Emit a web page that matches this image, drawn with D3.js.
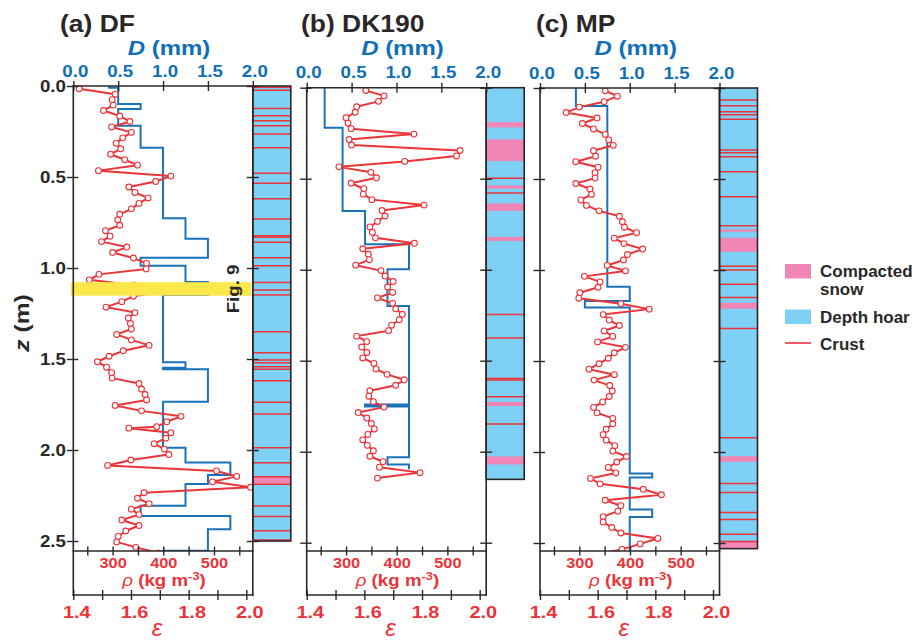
<!DOCTYPE html>
<html>
<head>
<meta charset="utf-8">
<script src="https://cdn.jsdelivr.net/npm/d3@7"></script>
<style>
  body { margin: 0; background: #fff; }
  svg { display: block; }
  text { font-family: "Liberation Sans", Arial, Helvetica, sans-serif; font-weight: bold; }
</style>
</head>
<body>
<svg id="chart" width="917" height="641"></svg>
<script>
// ---------- Site DF ----------
const zDF = [0.015,0.045,0.075,0.105,0.135,0.165,0.195,0.225,0.255,0.285,0.315,0.345,0.375,0.405,0.435,0.465,0.495,0.525,0.555,0.585,
  0.615,0.645,0.675,0.705,0.735,0.765,0.795,0.825,0.855,0.885,0.915,0.945,0.975,1.005,1.035,1.065,1.095,1.125,1.155,1.185,
  1.215,1.245,1.275,1.305,1.335,1.365,1.395,1.425,1.455,1.485,1.515,1.545,1.575,1.605,1.635,1.665,1.695,1.725,1.755,1.785,
  1.815,1.845,1.872,1.880,1.905,1.935,1.965,1.995,2.025,2.055,2.085,2.115,2.145,2.175,2.205,2.235,2.265,2.295,2.325,2.355,
  2.385,2.415,2.445,2.475,2.505,2.535,2.565];
const rhoDF = [234,305,299,301,282,314,334,298,337,320,307,316,296,324,349,272,415,385,332,344,
  370,352,337,314,310,314,286,295,278,328,300,341,367,366,273,254,342,407,341,318,
  287,344,331,335,337,308,337,372,321,293,270,288,298,299,352,357,364,367,305,357,
  435,407,387,332,415,405,382,402,411,336,290,505,545,497,572,362,349,372,337,352,
  318,352,326,311,308,346,390];
const grainBoundsDF = [0,0.01,0.099,0.126,0.218,0.339,0.727,0.839,0.943,0.987,1.077,1.148,1.518,1.548,1.557,1.735,1.987,2.068,2.137,2.187,2.306,2.363,2.436,2.553,2.6];
const grainDF = [0.4,0.5,0.75,0.5,0.75,1.0,1.25,1.5,0.75,1.25,1.5,1.0,1.25,1.0,1.5,1.0,1.25,1.75,1.5,1.25,0.75,1.75,1.5,1.0];
const compactDF = [[2.147,2.188]];
const crustDF = [0.007,0.024,0.123,0.163,0.191,0.218,0.264,0.339,0.48,0.535,0.619,0.731,0.823,0.831,0.859,0.943,0.987,1.079,1.121,1.148,
  1.35,1.465,1.505,1.52,1.542,1.557,1.619,1.738,1.802,1.987,2.07,2.147,2.188,2.308,2.366,2.443,2.495];
const baseDF = 2.5;
const fig9Band = [1.078, 1.152];

// ---------- Site DK190 ----------
const zDK = [0.015,0.045,0.075,0.105,0.135,0.165,0.195,0.225,0.255,0.285,0.315,0.345,0.375,0.405,0.435,0.465,0.495,0.525,0.555,0.585,
  0.615,0.645,0.675,0.705,0.735,0.765,0.795,0.825,0.855,0.885,0.915,0.945,0.975,1.005,1.035,1.065,1.095,1.125,1.155,1.185,
  1.215,1.245,1.275,1.305,1.335,1.365,1.395,1.425,1.455,1.485,1.515,1.545,1.575,1.605,1.635,1.665,1.695,1.725,1.755,1.785,
  1.815,1.845,1.875,1.905,1.935,1.965,1.995,2.025,2.055,2.085,2.115,2.145];
const rhoDK = [339,375,364,321,318,300,304,310,434,306,311,525,518,416,286,349,360,310,335,334,
  351,454,371,377,362,347,352,358,435,333,344,346,319,369,377,393,382,392,362,392,
  398,411,405,390,384,321,341,331,341,333,355,359,381,415,398,347,345,354,375,324,
  341,350,356,343,333,342,354,347,373,366,446,362];
const grainBoundsDK = [0,0.22,0.678,0.86,0.997,1.2,1.740,1.751,2.03,2.07,2.097];
const grainDK = [0.2,0.4,0.65,1.14,0.9,1.14,0.65,1.14,0.9,1.14];
const compactDK = [[0.189,0.218],[0.284,0.403],[0.537,0.555],[0.636,0.677],[0.82,0.842],[1.727,1.749],[2.026,2.07]];
const crustDK = [0.498,0.578,1.246,1.375,1.598,1.606,1.698,1.848];
const baseDK = 2.152;

// ---------- Site MP ----------
const zMP = [0.015,0.045,0.075,0.105,0.135,0.165,0.195,0.225,0.255,0.285,0.315,0.345,0.375,0.405,0.435,0.465,0.495,0.525,0.555,0.585,
  0.615,0.645,0.675,0.705,0.735,0.765,0.795,0.825,0.855,0.885,0.915,0.945,0.975,1.005,1.035,1.065,1.095,1.125,1.155,1.185,
  1.215,1.245,1.275,1.305,1.335,1.365,1.395,1.425,1.455,1.485,1.515,1.545,1.575,1.605,1.635,1.665,1.695,1.725,1.755,1.785,
  1.815,1.845,1.875,1.905,1.935,1.965,1.995,2.025,2.055,2.085,2.115,2.145,2.175,2.205,2.235,2.265,2.295,2.325,2.355,2.385,
  2.415,2.445,2.475,2.505,2.535,2.565];
const rhoMP = [351,375,349,300,274,335,306,328,351,358,367,328,332,293,337,331,331,293,321,324,
  303,314,339,379,385,389,413,369,388,425,395,387,355,391,310,341,337,301,299,382,
  438,347,359,379,349,366,336,391,369,357,339,319,369,329,360,365,359,346,328,335,
  366,366,353,347,353,370,366,393,374,357,372,322,341,426,462,351,382,376,347,347,
  364,382,455,420,384,332];
const grainBoundsMP = [0,0.099,1.092,1.171,1.206,2.118,2.14,2.316,2.357,2.556,2.6];
const grainMP = [0.4,0.75,1.0,0.5,1.0,1.25,1.0,1.25,1.0,1.25];
const compactMP = [[0.777,0.79],[0.823,0.9],[1.18,1.213],[2.023,2.054],[2.494,2.531]];
const crustMP = [0.066,0.097,0.13,0.147,0.172,0.341,0.356,0.378,0.46,0.598,0.757,0.979,1.0,1.078,1.151,1.321,1.922,2.173,2.223,2.333,2.371,2.452,2.492];
const baseMP = 2.531;

// ---------- Axis ticks ----------
const depthTicks = [0, 0.5, 1.0, 1.5, 2.0, 2.5];
const grainTicks = [0, 0.5, 1.0, 1.5, 2.0];
const rhoTicks = [250, 300, 350, 400, 450, 500, 550];
const rhoLabelled = [300, 400, 500];
const epsTicks = [1.4, 1.5, 1.6, 1.7, 1.8, 1.9, 2.0];
const epsLabelled = [1.4, 1.6, 1.8, 2.0];

const legendItems = [
  { kind: "rect", color: "#ef86b6", lines: ["Compacted", "snow"] },
  { kind: "rect", color: "#7fd0f5", lines: ["Depth hoar"] },
  { kind: "line", color: "#ec3338", lines: ["Crust"] }
];

// ---------- Styling ----------
const INK = "#2b2728", BLUE = "#1a72b9", LBLUE = "#0f6fb8", RED = "#ec3338",
      HOAR = "#7fd0f5", COMPACT = "#ef86b6", HILITE = "#fde84c";
const PLOT_W = 179.5, COL_W = 38, RHO_Y = 551, EPS_Y = 595, DEPTH_PX = 455;
const STRETCH = 1.17;

const panels = [
  { id: "df", title: "(a) DF", titleX: 60, left: 73.3, y0: 86, z: zDF, rho: rhoDF,
    gb: grainBoundsDF, gv: grainDF, compact: compactDF, crust: crustDF, base: baseDF, depthLabels: true },
  { id: "dk", title: "(b) DK190", titleX: 301, left: 306.7, y0: 87.7, z: zDK, rho: rhoDK,
    gb: grainBoundsDK, gv: grainDK, compact: compactDK, crust: crustDK, base: baseDK, depthLabels: false },
  { id: "mp", title: "(c) MP", titleX: 536, left: 540, y0: 88, z: zMP, rho: rhoMP,
    gb: grainBoundsMP, gv: grainMP, compact: compactMP, crust: crustMP, base: baseMP, depthLabels: false }
];

const svg = d3.select("#chart");

function label(parent, x, y, txt, o = {}) {
  const t = parent.append("text")
    .attr("transform", `translate(${x},${y})${o.rot ? ` rotate(${o.rot})` : ""} scale(${o.k || 1},1)`)
    .attr("text-anchor", o.anchor || "start")
    .attr("font-size", o.size || 16)
    .attr("fill", o.fill || INK);
  if (typeof txt === "function") txt(t); else t.text(txt);
  return t;
}

function styleTicks(g, o) {
  g.select(".domain").remove();
  g.selectAll(".tick line").attr("stroke", INK).attr("stroke-width", 1.4)
    .each(function () { o.line(d3.select(this)); });
  g.selectAll(".tick text")
    .attr("font-size", o.size).attr("fill", o.fill)
    .attr("transform", `translate(${o.dx || 0},0) scale(${STRETCH},1)`);
  if (o.text) g.selectAll(".tick text").each(function () { o.text(d3.select(this)); });
}

panels.forEach(p => {
  const g = svg.append("g").attr("class", "panel-" + p.id);
  const x0 = p.left, x1 = p.left + PLOT_W;

  const y = d3.scaleLinear().domain([0, 2.5]).range([p.y0, p.y0 + DEPTH_PX]);
  const xD = d3.scaleLinear().domain([0, 2]).range([x0, x1]);
  const xRho = d3.scaleLinear().domain([250, 550]).range([x0 + 14, x0 + 166]);
  const xEps = d3.scaleLinear().domain([1.4, 2.0]).range([x0, x0 + 173]);

  const clipId = "clip-" + p.id;
  g.append("clipPath").attr("id", clipId).append("rect")
    .attr("x", x0).attr("y", p.y0).attr("width", PLOT_W).attr("height", RHO_Y - p.y0);
  const plot = g.append("g").attr("clip-path", `url(#${clipId})`);

  // highlighted layer discussed in Fig. 9
  if (p.id === "df") {
    g.append("rect")
      .attr("x", xD(-0.027)).attr("width", xD(1.98) - xD(-0.027))
      .attr("y", y(fig9Band[0])).attr("height", y(fig9Band[1]) - y(fig9Band[0]))
      .attr("fill", HILITE);
    label(g, x1 - 14, y((fig9Band[0] + fig9Band[1]) / 2), "Fig. 9",
      { rot: -90, anchor: "middle", size: 16, k: STRETCH });
  }

  // grain size step profile
  const steps = [];
  p.gv.forEach((v, i) => { steps.push([v, p.gb[i]]); steps.push([v, p.gb[i + 1]]); });
  plot.append("path")
    .attr("d", d3.line().x(d => xD(d[0])).y(d => y(d[1]))(steps))
    .attr("fill", "none").attr("stroke", BLUE).attr("stroke-width", 2).attr("stroke-linejoin", "miter");

  // density profile
  const pts = p.z.map((z, i) => ({ z, rho: p.rho[i] }));
  plot.append("path")
    .attr("d", d3.line().x(d => xRho(d.rho)).y(d => y(d.z))(pts))
    .attr("fill", "none").attr("stroke", RED).attr("stroke-width", 2).attr("stroke-linejoin", "round");
  plot.selectAll("circle").data(pts).join("circle")
    .attr("cx", d => xRho(d.rho)).attr("cy", d => y(d.z)).attr("r", 2.9)
    .attr("fill", "#fff").attr("stroke", RED).attr("stroke-width", 1.1);

  // stratigraphy column
  const col = g.append("g");
  col.append("rect").attr("x", x1).attr("y", y(0)).attr("width", COL_W).attr("height", y(p.base) - y(0)).attr("fill", HOAR);
  col.selectAll("rect.compact").data(p.compact).join("rect").attr("class", "compact")
    .attr("x", x1).attr("width", COL_W).attr("y", d => y(d[0])).attr("height", d => y(d[1]) - y(d[0]))
    .attr("fill", COMPACT);
  col.selectAll("line.crust").data(p.crust).join("line").attr("class", "crust")
    .attr("x1", x1).attr("x2", x1 + COL_W).attr("y1", d => y(d)).attr("y2", d => y(d))
    .attr("stroke", RED).attr("stroke-width", 1.5);
  col.append("rect").attr("x", x1).attr("y", y(0)).attr("width", COL_W).attr("height", y(p.base) - y(0))
    .attr("fill", "none").attr("stroke", INK).attr("stroke-width", 1.6);

  // frame
  const frame = [[x0, p.y0, x0, EPS_Y], [x1, p.y0, x1, EPS_Y], [x0, p.y0, x1, p.y0], [x0, RHO_Y, x1, RHO_Y], [x0, EPS_Y, x1, EPS_Y]];
  g.selectAll("line.frame").data(frame).join("line").attr("class", "frame")
    .attr("x1", d => d[0]).attr("y1", d => d[1]).attr("x2", d => d[2]).attr("y2", d => d[3])
    .attr("stroke", INK).attr("stroke-width", 1.6).attr("stroke-linecap", "square");

  // grain size axis (top)
  const gTop = g.append("g").attr("transform", `translate(0,${p.y0})`)
    .call(d3.axisTop(xD).tickValues(grainTicks).tickFormat(d3.format(".1f")).tickSize(5).tickPadding(5));
  styleTicks(gTop, { size: 16, fill: LBLUE, dx: 1.5, line: l => l.attr("y1", 5).attr("y2", -5),
    text: t => t.attr("y", -9.5).attr("dy", 0) });

  // depth axes (left labelled, right ticks only)
  const gL = g.append("g").attr("transform", `translate(${x0},0)`)
    .call(d3.axisLeft(y).tickValues(depthTicks).tickFormat(p.depthLabels ? d3.format(".1f") : "").tickSize(6));
  styleTicks(gL, { size: 16, fill: INK, line: l => l.attr("x1", 5).attr("x2", -6.5),
    text: t => t.attr("x", -6.3).attr("dy", "0.36em") });
  const gR = g.append("g").attr("transform", `translate(${x1},0)`)
    .call(d3.axisRight(y).tickValues(depthTicks).tickFormat("").tickSize(6));
  styleTicks(gR, { size: 16, fill: INK, line: l => l.attr("x1", -6).attr("x2", 6) });

  // density axis
  const gRho = g.append("g").attr("transform", `translate(0,${RHO_Y})`)
    .call(d3.axisBottom(xRho).tickValues(rhoTicks).tickFormat(d => rhoLabelled.includes(d) ? d : "").tickSize(4).tickPadding(4));
  styleTicks(gRho, { size: 14, fill: RED, line: l => l.attr("y1", -4.5).attr("y2", 4.5),
    text: t => t.attr("y", 17).attr("dy", 0) });

  // epsilon axis
  const gEps = g.append("g").attr("transform", `translate(0,${EPS_Y})`)
    .call(d3.axisBottom(xEps).tickValues(epsTicks).tickFormat(d => epsLabelled.includes(d) ? d3.format(".1f")(d) : "").tickSize(5));
  styleTicks(gEps, { size: 17, fill: RED, dx: 3, line: l => l.attr("y1", -5).attr("y2", 5),
    text: t => t.attr("y", 23).attr("dy", 0) });

  // titles and axis names
  label(g, p.titleX, 31.5, p.title, { size: 23, k: 1.15 });
  label(g, (x0 + x1) / 2 + 6, 55, t => {
    t.append("tspan").attr("font-style", "italic").text("D");
    t.append("tspan").text(" (mm)");
  }, { size: 20, k: 1.2, anchor: "middle", fill: LBLUE });
  label(g, (x0 + x1) / 2 + 1, 586, t => {
    t.append("tspan").attr("font-weight", "normal").attr("font-style", "italic").text("ρ");
    t.append("tspan").text(" (kg m");
    t.append("tspan").attr("font-size", 11).attr("dy", -6).text("-3");
    t.append("tspan").attr("dy", 6).text(")");
  }, { size: 16, k: STRETCH, anchor: "middle", fill: RED });
  label(g, (x0 + x1) / 2 - 6, 636, t => {
    t.append("tspan").attr("font-style", "italic").attr("font-weight", "normal").text("ε");
  }, { size: 24, anchor: "middle", fill: RED });
});

// depth axis name
label(svg, 29, 323, t => {
  t.append("tspan").attr("font-style", "italic").text("z");
  t.append("tspan").text(" (m)");
}, { rot: -90, anchor: "middle", size: 21, k: STRETCH });

// legend
const lg = svg.append("g").attr("class", "legend");
let ly = 264;
legendItems.forEach(item => {
  if (item.kind === "rect") {
    lg.append("rect").attr("x", 785).attr("y", ly).attr("width", 26).attr("height", 14.5).attr("fill", item.color);
  } else {
    lg.append("line").attr("x1", 785).attr("x2", 811).attr("y1", ly + 6.5).attr("y2", ly + 6.5)
      .attr("stroke", item.color).attr("stroke-width", 1.6);
  }
  item.lines.forEach((s, i) => label(lg, 820, ly + 13 + i * 18, s, { size: 17 }));
  ly += item.lines.length > 1 ? 45.5 : 27;
});
</script>
</body>
</html>
